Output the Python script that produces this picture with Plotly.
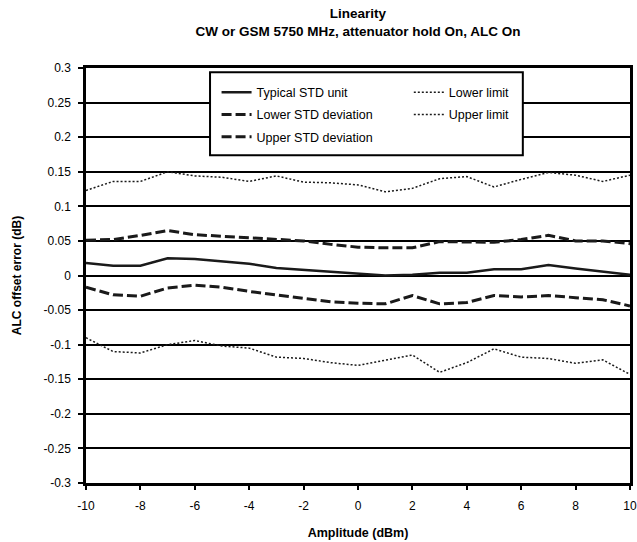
import plotly.graph_objects as go

amplitude = [-10, -9, -8, -7, -6, -5, -4, -3, -2, -1, 0, 1, 2, 3, 4, 5, 6, 7, 8, 9, 10]
typical = [0.018, 0.014, 0.014, 0.025, 0.024, 0.021, 0.017, 0.011, 0.008, 0.005, 0.002, 0.000, 0.001, 0.004, 0.004, 0.009, 0.009, 0.015, 0.010, 0.005, 0.001]
lower_std = [-0.017, -0.028, -0.030, -0.018, -0.014, -0.017, -0.023, -0.028, -0.034, -0.038, -0.040, -0.041, -0.029, -0.041, -0.039, -0.029, -0.031, -0.029, -0.032, -0.035, -0.044]
upper_std = [0.051, 0.052, 0.058, 0.065, 0.059, 0.057, 0.054, 0.052, 0.050, 0.045, 0.041, 0.040, 0.040, 0.049, 0.049, 0.048, 0.052, 0.058, 0.050, 0.050, 0.046]
lower_limit = [-0.090, -0.110, -0.112, -0.100, -0.094, -0.102, -0.105, -0.118, -0.120, -0.126, -0.130, -0.122, -0.115, -0.140, -0.126, -0.106, -0.118, -0.120, -0.127, -0.122, -0.143]
upper_limit = [0.123, 0.136, 0.136, 0.150, 0.144, 0.142, 0.136, 0.144, 0.135, 0.134, 0.131, 0.121, 0.126, 0.140, 0.143, 0.128, 0.139, 0.149, 0.145, 0.136, 0.145]

y_ticks = [0.3, 0.25, 0.2, 0.15, 0.1, 0.05, 0, -0.05, -0.1, -0.15, -0.2, -0.25, -0.3]
y_labels = ["0.3", "0.25", "0.2", "0.15", "0.1", "0.05", "0", "-0.05", "-0.1", "-0.15", "-0.2", "-0.25", "-0.3"]
x_ticks = [-10, -8, -6, -4, -2, 0, 2, 4, 6, 8, 10]
x_labels = ["-10", "-8", "-6", "-4", "-2", "0", "2", "4", "6", "8", "10"]

FONT = "Liberation Sans, Arial, sans-serif"

fig = go.Figure()
fig.add_trace(go.Scatter(x=amplitude, y=typical, mode="lines", name="Typical STD unit",
                         line=dict(color="#1a1a1a", width=2.5), legend="legend", legendgroup="a"))
fig.add_trace(go.Scatter(x=amplitude, y=lower_std, mode="lines", name="Lower STD deviation",
                         line=dict(color="#1a1a1a", width=3, dash="10px,4px"), legend="legend", legendgroup="b"))
fig.add_trace(go.Scatter(x=amplitude, y=upper_std, mode="lines", name="Upper STD deviation",
                         line=dict(color="#1a1a1a", width=3, dash="10px,4px"), legend="legend", legendgroup="c"))
fig.add_trace(go.Scatter(x=amplitude, y=lower_limit, mode="lines", name="Lower limit",
                         line=dict(color="#1a1a1a", width=1.5, dash="2px,2px"), legend="legend2", legendgroup="d"))
fig.add_trace(go.Scatter(x=amplitude, y=upper_limit, mode="lines", name="Upper limit",
                         line=dict(color="#1a1a1a", width=1.5, dash="2px,2px"), legend="legend2", legendgroup="e"))

fig.add_shape(type="rect", xref="paper", yref="paper", x0=0.228, x1=0.803, y0=0.79, y1=0.99,
              line=dict(color="black", width=2), fillcolor="white", layer="above")

legend_common = dict(bgcolor="rgba(0,0,0,0)", borderwidth=0, font=dict(family=FONT, size=12.5, color="black"),
                     orientation="v", xanchor="left", yanchor="top", tracegroupgap=3, itemwidth=30)

fig.update_layout(
    width=637, height=542,
    margin=dict(l=86, r=7, t=68, b=59),
    paper_bgcolor="white", plot_bgcolor="white",
    font=dict(family=FONT, size=12, color="black"),
    title=dict(text="<b>Linearity</b><br><b>CW or GSM 5750 MHz, attenuator hold On, ALC On</b>",
               x=0.5, xref="paper", xanchor="center", y=0.966, yref="container", yanchor="top",
               font=dict(family=FONT, size=13.5, color="black")),
    legend=dict(x=0.24, y=0.977, **legend_common),
    legend2=dict(x=0.5934, y=0.977, **legend_common),
    showlegend=True,
    xaxis=dict(range=[-10, 10], tickvals=x_ticks, ticktext=x_labels, showgrid=False,
               showline=True, linecolor="black", linewidth=2.5, mirror=True,
               ticks="outside", ticklen=4, tickcolor="black", tickwidth=1.5, zeroline=False,
               ticklabelstandoff=6, automargin=False,
               tickfont=dict(family=FONT, size=12),
               title=dict(text="<b>Amplitude (dBm)</b>", font=dict(family=FONT, size=12.5), standoff=17)),
    yaxis=dict(range=[-0.3, 0.3], tickvals=y_ticks, ticktext=y_labels, showgrid=True,
               gridcolor="black", gridwidth=2, showline=True, linecolor="black", linewidth=2.5,
               mirror=True, ticks="outside", ticklen=5, tickcolor="black", tickwidth=1.5,
               zeroline=False, ticklabelstandoff=5, automargin=False,
               tickfont=dict(family=FONT, size=12),
               title=dict(text="<b>ALC offset error (dB)</b>", font=dict(family=FONT, size=12), standoff=20)),
)

fig.write_html("out.html", config={"displayModeBar": False},
               post_script="document.body.style.margin='0';")
